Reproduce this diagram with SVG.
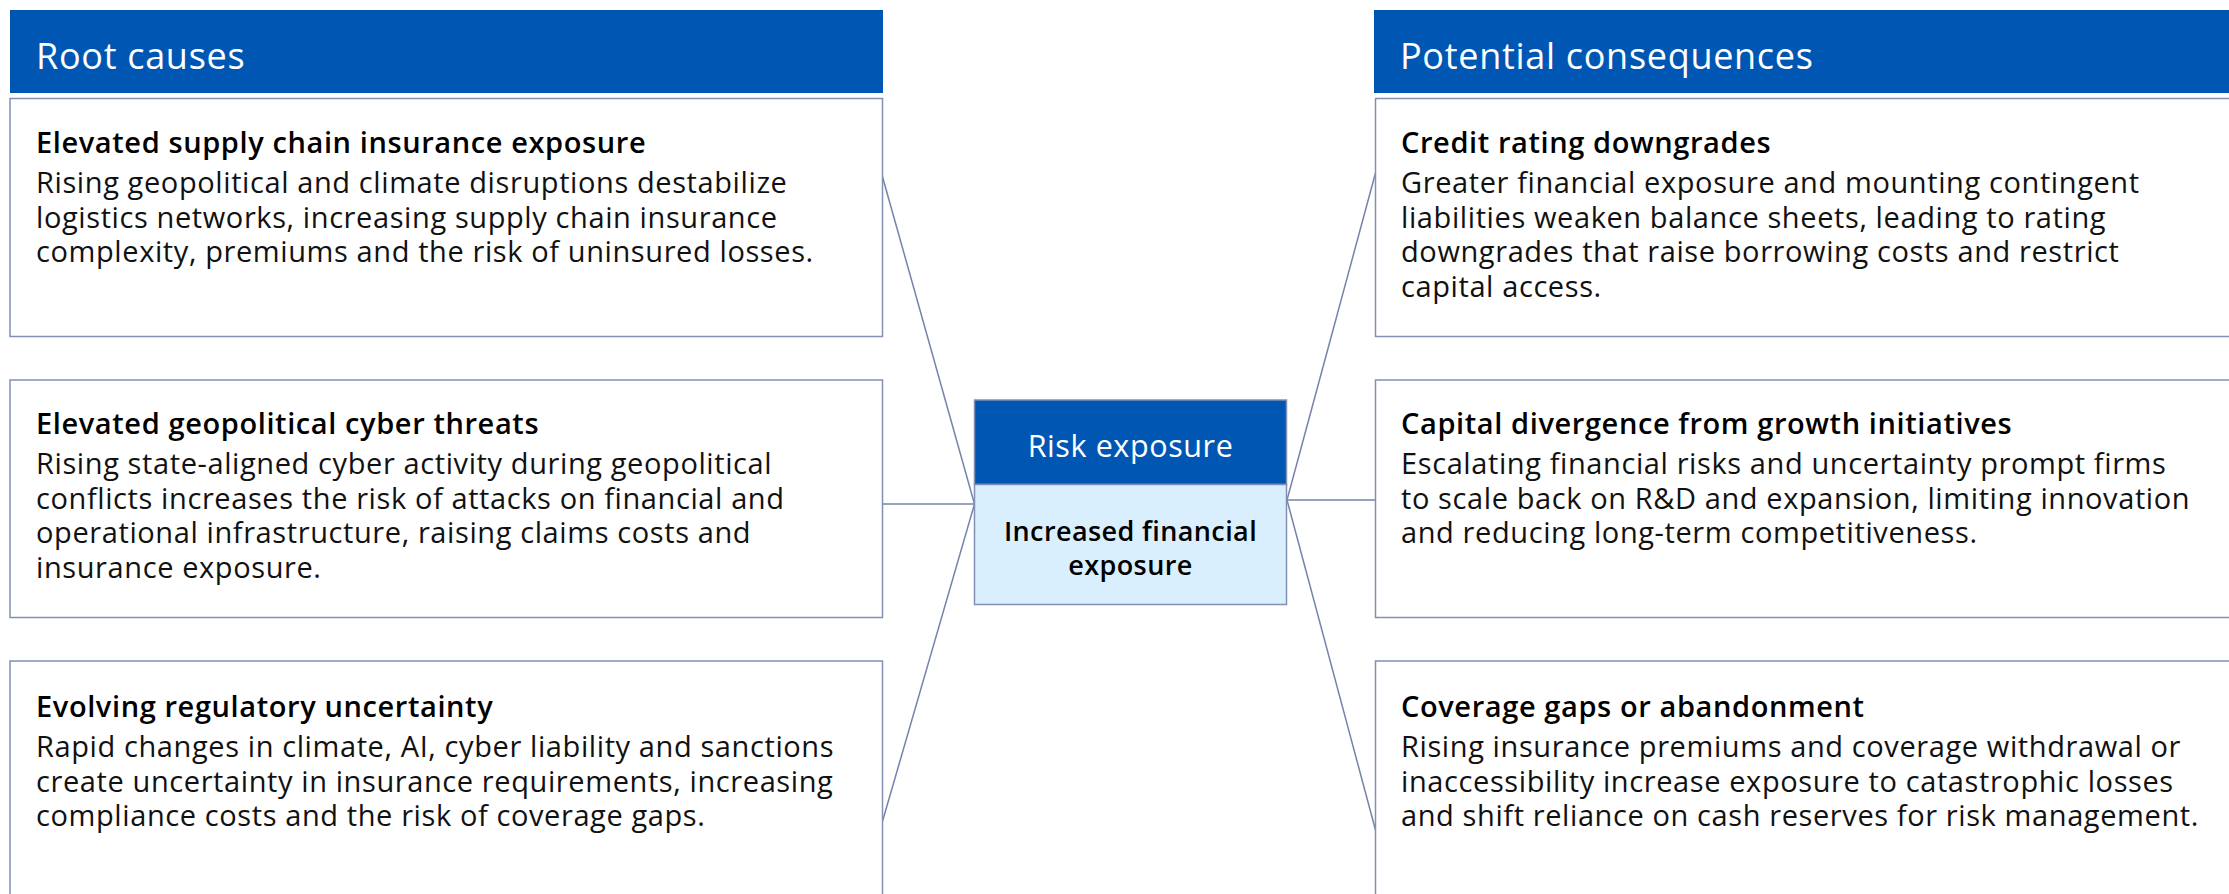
<svg xmlns="http://www.w3.org/2000/svg" width="2229" height="894" viewBox="0 0 2229 894">
<style>
.hdr{fill:#0057b3}
.box{fill:#ffffff;stroke:#8190b3;stroke-width:1.5}
.conn{fill:none;stroke:#7483a8;stroke-width:1.5}
.ht{font-family:"Open Sans","Liberation Sans",sans-serif;font-size:36px;letter-spacing:0.7px;fill:#ffffff}
.tt{font-family:"Open Sans","Liberation Sans",sans-serif;font-size:29px;letter-spacing:0.6px;font-weight:600;fill:#000000}
.bt{font-family:"Open Sans","Liberation Sans",sans-serif;font-size:29px;letter-spacing:0.6px;fill:#111111}
.ct{font-family:"Open Sans","Liberation Sans",sans-serif;font-size:30.5px;letter-spacing:0.6px;fill:#ffffff;text-anchor:middle}
.cb{font-family:"Open Sans","Liberation Sans",sans-serif;font-size:27px;letter-spacing:0.4px;font-weight:600;fill:#000000;text-anchor:middle}
</style>
<rect width="2229" height="894" fill="#ffffff"/>
<g id="connectors">
<line class="conn" x1="882" y1="175" x2="974.5" y2="504"/>
<line class="conn" x1="882" y1="504" x2="974.5" y2="504"/>
<line class="conn" x1="882" y1="823" x2="974.5" y2="504"/>
<line class="conn" x1="1375.5" y1="173" x2="1287" y2="500"/>
<line class="conn" x1="1287" y1="500" x2="1375.5" y2="500"/>
<line class="conn" x1="1375.5" y1="830" x2="1287" y2="500"/>
</g>
<g id="header-root-causes">
<rect class="hdr" x="10" y="10" width="873" height="83"/>
<text class="ht" x="36" y="69">Root causes</text>
</g>
<g id="header-potential-consequences">
<rect class="hdr" x="1374" y="10" width="860" height="83"/>
<text class="ht" x="1400" y="69">Potential consequences</text>
</g>
<g id="cause-1">
<rect class="box" x="10" y="98.5" width="872.5" height="238"/>
<text class="tt" x="36" y="153">Elevated supply chain insurance exposure</text>
<text class="bt" x="36" y="193">Rising geopolitical and climate disruptions destabilize</text>
<text class="bt" x="36" y="228">logistics networks, increasing supply chain insurance</text>
<text class="bt" x="36" y="262">complexity, premiums and the risk of uninsured losses.</text>
</g>
<g id="cause-2">
<rect class="box" x="10" y="380" width="872.5" height="237.5"/>
<text class="tt" x="36" y="434">Elevated geopolitical cyber threats</text>
<text class="bt" x="36" y="474">Rising state-aligned cyber activity during geopolitical</text>
<text class="bt" x="36" y="508.5">conflicts increases the risk of attacks on financial and</text>
<text class="bt" x="36" y="543">operational infrastructure, raising claims costs and</text>
<text class="bt" x="36" y="578">insurance exposure.</text>
</g>
<g id="cause-3">
<rect class="box" x="10" y="661" width="872.5" height="260"/>
<text class="tt" x="36" y="717">Evolving regulatory uncertainty</text>
<text class="bt" x="36" y="757">Rapid changes in climate, AI, cyber liability and sanctions</text>
<text class="bt" x="36" y="791.5">create uncertainty in insurance requirements, increasing</text>
<text class="bt" x="36" y="826">compliance costs and the risk of coverage gaps.</text>
</g>
<g id="risk-exposure">
<rect x="974.5" y="400" width="312" height="84.5" fill="#0057b3" stroke="#8190b3" stroke-width="1.5"/>
<rect x="974.5" y="484.5" width="312" height="120" fill="#daeffd" stroke="#8190b3" stroke-width="1.5"/>
<text class="ct" x="1130.5" y="457">Risk exposure</text>
<text class="cb" x="1130.5" y="541">Increased financial</text>
<text class="cb" x="1130.5" y="574.5">exposure</text>
</g>
<g id="consequence-1">
<rect class="box" x="1375.5" y="98.5" width="870" height="238"/>
<text class="tt" x="1401" y="153">Credit rating downgrades</text>
<text class="bt" x="1401" y="193">Greater financial exposure and mounting contingent</text>
<text class="bt" x="1401" y="228">liabilities weaken balance sheets, leading to rating</text>
<text class="bt" x="1401" y="262">downgrades that raise borrowing costs and restrict</text>
<text class="bt" x="1401" y="296.5">capital access.</text>
</g>
<g id="consequence-2">
<rect class="box" x="1375.5" y="380" width="870" height="237.5"/>
<text class="tt" x="1401" y="434">Capital divergence from growth initiatives</text>
<text class="bt" x="1401" y="474">Escalating financial risks and uncertainty prompt firms</text>
<text class="bt" x="1401" y="508.5">to scale back on R&amp;D and expansion, limiting innovation</text>
<text class="bt" x="1401" y="543">and reducing long-term competitiveness.</text>
</g>
<g id="consequence-3">
<rect class="box" x="1375.5" y="661" width="870" height="260"/>
<text class="tt" x="1401" y="717">Coverage gaps or abandonment</text>
<text class="bt" x="1401" y="757">Rising insurance premiums and coverage withdrawal or</text>
<text class="bt" x="1401" y="791.5">inaccessibility increase exposure to catastrophic losses</text>
<text class="bt" x="1401" y="826">and shift reliance on cash reserves for risk management.</text>
</g>
</svg>
